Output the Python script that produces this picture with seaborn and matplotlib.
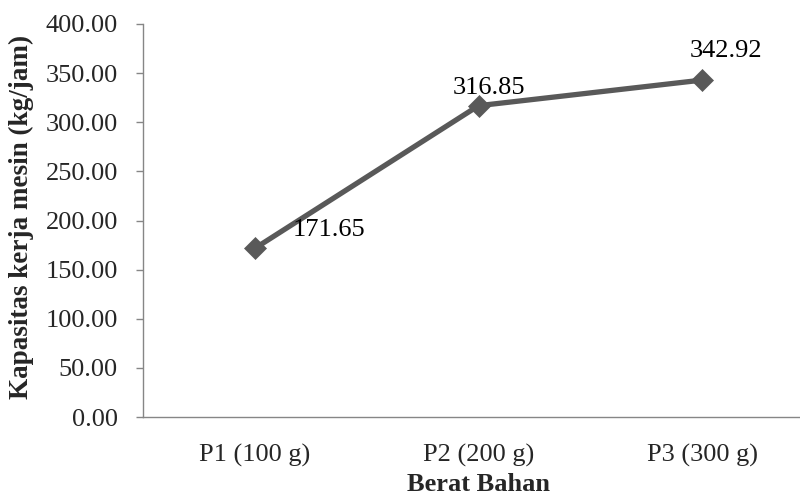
import matplotlib
matplotlib.use("Agg")
import matplotlib.pyplot as plt
import seaborn as sns
import pandas as pd

# Data
categories = ["P1 (100 g)", "P2 (200 g)", "P3 (300 g)"]
capacity = [171.65, 316.85, 342.92]
y_ticks = [0, 50, 100, 150, 200, 250, 300, 350, 400]

sns.set_theme(style="white")
plt.rcParams['font.family'] = ['Liberation Serif', 'DejaVu Serif']

df = pd.DataFrame({"Berat Bahan": categories, "Kapasitas": capacity})
df["pos"] = range(len(categories))

fig = plt.figure(figsize=(8, 4.99), dpi=100)
# axis runs a bit past the right edge, like the cropped original
ax = fig.add_axes([143 / 800, 82 / 499, 671 / 800, 393 / 499])

line_color = "#595959"
sns.lineplot(data=df, x="pos", y="Kapasitas", ax=ax, color=line_color,
             linewidth=3.8, marker="D", markersize=11, markeredgewidth=0.5,
             markeredgecolor=line_color, clip_on=False)

# Data labels (Excel style placement)
offsets = [(27.4, 8.6, 'left'), (7.2, 8.6, 'center'), (17.3, 16.6, 'center')]
for (i, v), (dx, dy, ha) in zip(enumerate(capacity), offsets):
    ax.annotate(f"{v:.2f}", (i, v), xytext=(dx, dy), textcoords="offset points",
                ha=ha, va="baseline", fontsize=19, color="black")

# Axes styling
ax.set_xlim(-0.5, len(categories) - 0.5)
ax.set_ylim(0, 400)
ax.set_xticks(range(len(categories)))
ax.set_xticklabels(categories, fontsize=19)
ax.set_yticks(y_ticks)
ax.set_yticklabels([f"{t:.2f}" for t in y_ticks], fontsize=19)
ax.tick_params(axis="y", direction="out", length=5, width=1, color="#868686", pad=13, left=True)
ax.tick_params(axis="x", length=0, pad=19.5)

for side in ["top", "right"]:
    ax.spines[side].set_visible(False)
for side in ["left", "bottom"]:
    ax.spines[side].set_color("#868686")
    ax.spines[side].set_linewidth(1)

ax.set_xlabel("Berat Bahan", fontsize=19, fontweight="bold")
ax.set_ylabel("Kapasitas kerja mesin (kg/jam)", fontsize=19.5, fontweight="bold")
ax.xaxis.label.set_va("baseline")
ax.xaxis.set_label_coords(0.5, -0.188)
ax.yaxis.set_label_coords(-0.162, 0.508)
ax.grid(False)

fig.savefig("out.png", dpi=100)
plt.close(fig)
